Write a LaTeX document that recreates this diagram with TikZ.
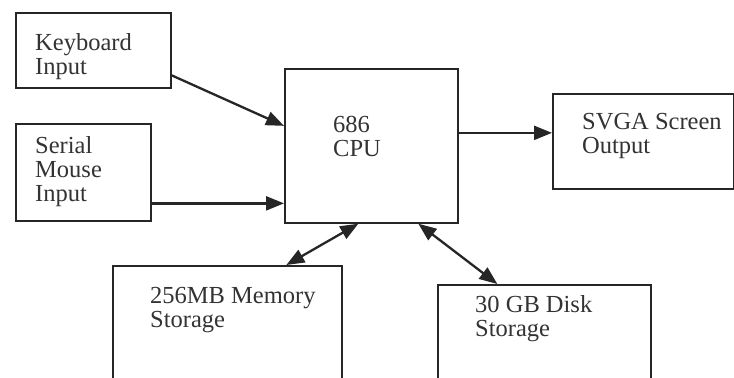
\documentclass[tikz,border=0pt]{standalone}
\usepackage{fontspec}
\setmainfont{Liberation Serif}
\usetikzlibrary{arrows.meta}

% stacked lines of text whose reference point is the first baseline
\newcommand{\stacklines}[1]{\vtop{\baselineskip=24bp\lineskiplimit=-10bp #1}}

\tikzset{
  blockbox/.style={draw=black!85, line width=1.7bp, fill=none, inner sep=0pt,
                   anchor=north west},
  lbl/.style={anchor=base west, inner sep=0pt, text=black!80,
              font=\fontsize{24.5bp}{24bp}\selectfont},
  bigtip/.tip={Triangle[length=18bp,width=14bp]},
  arr/.style={draw=black!85, line width=2.3bp, -bigtip},
  dblarr/.style={draw=black!85, line width=2.3bp, bigtip-bigtip}
}

\begin{document}
\begin{tikzpicture}[x=1bp, y=-1bp]
  \clip (0,0) rectangle (734,377);
  \fill[white] (0,0) rectangle (734,377);

  % blocks
  \node[blockbox, minimum width=155bp, minimum height=75bp]  (kb)  at (15,12)  {};
  \node[blockbox, minimum width=135bp, minimum height=97bp]  (ms)  at (15,123) {};
  \node[blockbox, minimum width=173bp, minimum height=154bp] (cpu) at (284,68) {};
  \node[blockbox, minimum width=181bp, minimum height=95bp]  (sv)  at (552,93) {};
  \node[blockbox, minimum width=229bp, minimum height=125bp] (mem) at (112,265) {};
  \node[blockbox, minimum width=213bp, minimum height=106bp] (dsk) at (437,284) {};

  % labels
  \node[lbl] (kbt)  at (35,50)   {\stacklines{\hbox{Keyboard}\hbox{Input}}};
  \node[lbl] (mst)  at (35,153)  {\stacklines{\hbox{Serial}\hbox{Mouse}\hbox{Input}}};
  \node[lbl] (cput) at (333,132) {\stacklines{\hbox{686}\hbox{CPU}}};
  \node[lbl] (svt)  at (582,129) {\stacklines{\hbox{SVGA Screen}\hbox{Output}}};
  \node[lbl] (memt) at (150,303) {\stacklines{\hbox{256MB Memory}\hbox{Storage}}};
  \node[lbl] (dskt) at (475,312) {\stacklines{\hbox{30 GB Disk}\hbox{Storage}}};

  % connectors
  \draw[arr] ([yshift=-25bp]kb.east) -- ([yshift=20bp]cpu.west);
  \draw[arr] ([yshift=-31bp]ms.east) -- ([yshift=-31bp]ms.east -| cpu.west);
  \draw[arr] ([yshift=13bp]cpu.east) -- ([yshift=13bp]cpu.east -| sv.west);
  \draw[dblarr] ([xshift=-13bp]cpu.south) -- ([xshift=59bp]mem.north);
  \draw[dblarr] ([xshift=47bp]cpu.south) -- ([xshift=-47bp]dsk.north);
\end{tikzpicture}
\end{document}
